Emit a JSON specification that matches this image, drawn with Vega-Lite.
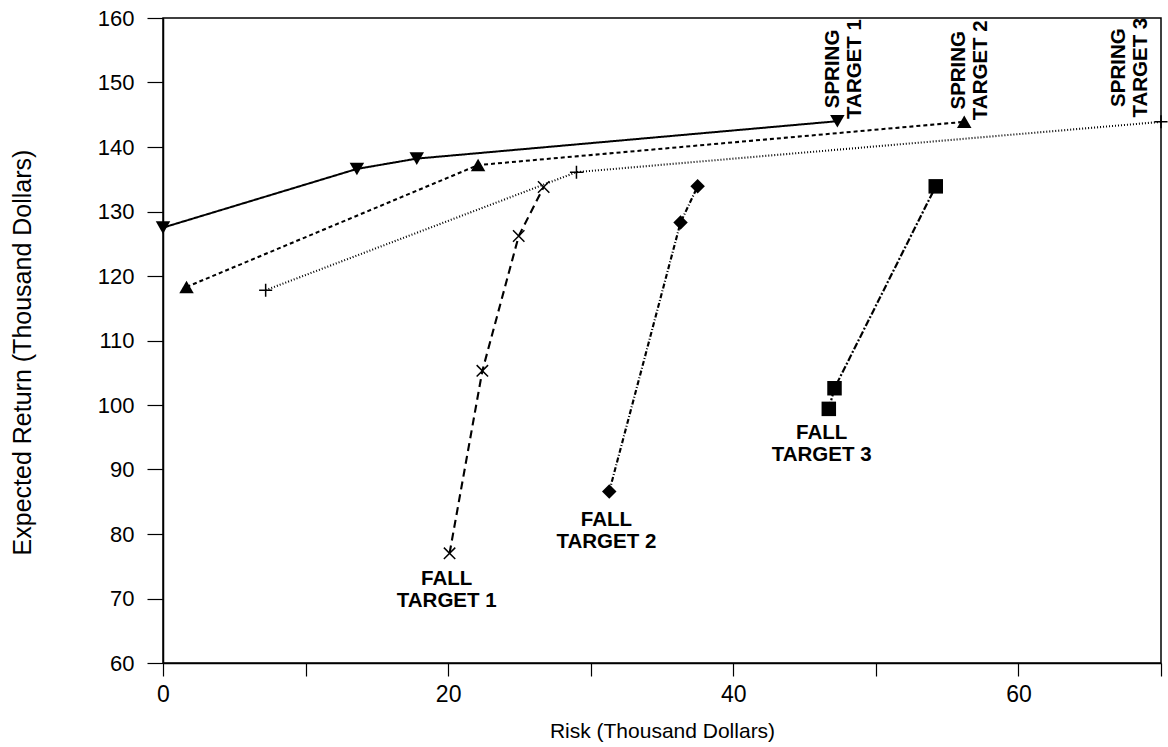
{
  "$schema": "https://vega.github.io/schema/vega-lite/v6.json",
  "width": 998,
  "height": 645,
  "autosize": "none",
  "padding": {"left": 163, "top": 18, "right": 7, "bottom": 84},
  "background": "white",
  "config": {
    "view": {"stroke": "black", "strokeWidth": 1.5},
    "font": "Liberation Sans",
    "axis": {"grid": false, "domainColor": "black", "tickColor": "black", "labelColor": "black", "titleColor": "black", "labelFont": "Liberation Sans", "titleFont": "Liberation Sans", "titleFontWeight": "normal", "domainWidth": 1.5, "tickWidth": 1.2}
  },
  "datasets": {
    "pts": [
      {"series": "SpT1", "ord": 1, "risk": 0, "ret": 127.5},
      {"series": "SpT1", "ord": 2, "risk": 13.6, "ret": 136.6},
      {"series": "SpT1", "ord": 3, "risk": 17.8, "ret": 138.2},
      {"series": "SpT1", "ord": 4, "risk": 47.3, "ret": 144.0},
      {"series": "SpT2", "ord": 1, "risk": 1.65, "ret": 118.3},
      {"series": "SpT2", "ord": 2, "risk": 22.1, "ret": 137.2},
      {"series": "SpT2", "ord": 3, "risk": 56.2, "ret": 143.9},
      {"series": "SpT3", "ord": 1, "risk": 7.2, "ret": 117.8},
      {"series": "SpT3", "ord": 2, "risk": 29.0, "ret": 136.1},
      {"series": "SpT3", "ord": 3, "risk": 70.0, "ret": 143.9},
      {"series": "FT1", "ord": 1, "risk": 20.1, "ret": 77.0},
      {"series": "FT1", "ord": 2, "risk": 22.4, "ret": 105.3},
      {"series": "FT1", "ord": 3, "risk": 24.95, "ret": 126.2},
      {"series": "FT1", "ord": 4, "risk": 26.7, "ret": 133.8},
      {"series": "FT2", "ord": 1, "risk": 31.3, "ret": 86.6},
      {"series": "FT2", "ord": 2, "risk": 36.3, "ret": 128.3},
      {"series": "FT2", "ord": 3, "risk": 37.5, "ret": 133.9},
      {"series": "FT3", "ord": 1, "risk": 46.7, "ret": 99.4},
      {"series": "FT3", "ord": 2, "risk": 47.1, "ret": 102.6},
      {"series": "FT3", "ord": 3, "risk": 54.2, "ret": 133.9}
    ],
    "labels": [
      {"label": "FALL\nTARGET 1", "risk": 19.9, "ret": 73.1, "rot": 0},
      {"label": "FALL\nTARGET 2", "risk": 31.1, "ret": 82.1, "rot": 0},
      {"label": "FALL\nTARGET 3", "risk": 46.2, "ret": 95.7, "rot": 0},
      {"label": "SPRING\nTARGET 1", "risk": 46.97, "ret": 152.1, "rot": 270},
      {"label": "SPRING\nTARGET 2", "risk": 55.8, "ret": 151.9, "rot": 270},
      {"label": "SPRING\nTARGET 3", "risk": 67.05, "ret": 152.3, "rot": 270}
    ]
  },
  "encoding": {
    "x": {"field": "risk", "type": "quantitative", "scale": {"domain": [0, 70], "nice": false},
      "axis": {"title": "Risk  (Thousand Dollars)", "values": [0, 10, 20, 30, 40, 50, 60, 70], "labelExpr": "datum.value % 20 === 0 ? datum.label : ''", "tickSize": 13, "labelPadding": 7, "labelFontSize": 23, "titleFontSize": 21, "titleY": 68, "titleBaseline": "middle", "labelFlush": false}},
    "y": {"field": "ret", "type": "quantitative", "scale": {"domain": [60, 160], "nice": false},
      "axis": {"title": "Expected Return  (Thousand Dollars)", "values": [60, 70, 80, 90, 100, 110, 120, 130, 140, 150, 160], "tickSize": 16, "labelPadding": 13, "labelFontSize": 22, "titleFontSize": 25, "titleX": -141, "titleY": 334, "titleBaseline": "middle", "labelFlush": false}}
  },
  "layer": [
    {
      "data": {"name": "pts"},
      "mark": {"type": "line", "color": "black", "clip": false},
      "encoding": {
        "detail": {"field": "series", "type": "nominal"},
        "order": {"field": "ord", "type": "quantitative"},
        "strokeDash": {"field": "series", "type": "nominal", "legend": null,
          "scale": {"domain": ["SpT1", "SpT2", "SpT3", "FT1", "FT2", "FT3"],
            "range": [[1, 0], [4, 3], [1, 2], [8, 5], [5, 2, 1, 2], [7, 2, 2, 2]]}},
        "strokeWidth": {"field": "series", "type": "nominal", "legend": null,
          "scale": {"domain": ["SpT1", "SpT2", "SpT3", "FT1", "FT2", "FT3"],
            "range": [2, 2.2, 1, 1.5, 1.1, 1.5]}}
      }
    },
    {
      "data": {"name": "pts"},
      "transform": [{"filter": "datum.series !== 'SpT3' && datum.series !== 'FT1'"}],
      "mark": {"type": "point", "filled": true, "color": "black", "opacity": 1, "clip": false},
      "encoding": {
        "shape": {"field": "series", "type": "nominal", "legend": null,
          "scale": {"domain": ["SpT1", "SpT2", "FT2", "FT3"],
            "range": ["triangle-down", "triangle-up", "diamond", "square"]}},
        "size": {"field": "series", "type": "nominal", "legend": null,
          "scale": {"domain": ["SpT1", "SpT2", "FT2", "FT3"], "range": [210, 210, 150, 160]}}
      }
    },
    {
      "data": {"name": "pts"},
      "transform": [{"filter": "datum.series === 'SpT3' || datum.series === 'FT1'"}],
      "mark": {"type": "point", "filled": false, "color": "black", "strokeWidth": 1.5, "opacity": 1, "clip": false},
      "encoding": {
        "shape": {"field": "series", "type": "nominal", "legend": null,
          "scale": {"domain": ["SpT3", "FT1"],
            "range": ["M-1,0L1,0M0,-1L0,1", "M-1,-1L1,1M-1,1L1,-1"]}},
        "size": {"field": "series", "type": "nominal", "legend": null,
          "scale": {"domain": ["SpT3", "FT1"], "range": [170, 130]}}
      }
    },
    {
      "data": {"name": "labels"},
      "mark": {"type": "text", "font": "Liberation Sans", "fontWeight": "bold", "fontSize": 20.5, "lineHeight": 22, "lineBreak": "\n", "align": "center", "baseline": "middle", "color": "black"},
      "encoding": {
        "text": {"field": "label", "type": "nominal"},
        "angle": {"field": "rot", "type": "quantitative", "scale": null}
      }
    }
  ],
  "resolve": {"scale": {"shape": "independent", "size": "independent"}}
}
